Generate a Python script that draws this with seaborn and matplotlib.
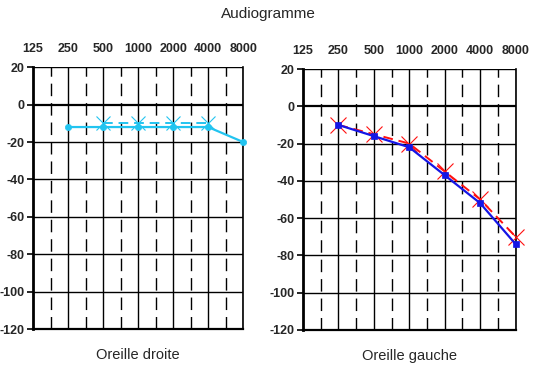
import numpy as np
import pandas as pd
import matplotlib
matplotlib.use('Agg')
import matplotlib.pyplot as plt
import seaborn as sns

# frequencies (Hz) and thresholds (dB)
freq_ticks = [125, 250, 500, 1000, 2000, 4000, 8000]
db_ticks = [20, 0, -20, -40, -60, -80, -100, -120]

# right ear (Oreille droite)
right_air_f = [250, 500, 1000, 2000, 4000, 8000]
right_air_db = [-12, -12, -12, -12, -12, -20]
right_bone_f = [500, 1000, 2000, 4000]
right_bone_db = [-10, -10, -10, -10]

# left ear (Oreille gauche)
left_air_f = [250, 500, 1000, 2000, 4000, 8000]
left_air_db = [-10, -16, -22, -37, -52, -74]
left_bone_f = [250, 500, 1000, 2000, 4000, 8000]
left_bone_db = [-10, -15, -20, -35, -50, -70]

sns.set_style('white')
plt.rcParams['font.family'] = ['Liberation Sans', 'DejaVu Sans']

fig = plt.figure(figsize=(5.36, 3.69), dpi=100)
ax1 = fig.add_axes([0.0616, 0.108, 0.392, 0.710])
ax2 = fig.add_axes([0.565, 0.106, 0.397, 0.707])


def setup(ax, label):
    ax.set_xscale('log', base=2)
    ax.set_xlim(125, 8000)
    ax.set_ylim(-120, 20)
    # solid grid on octaves, dashed on half octaves
    for f in freq_ticks[1:]:
        ax.axvline(f, color='black', lw=1.0, zorder=1)
    for f in freq_ticks[:-1]:
        ax.axvline(f * np.sqrt(2), color='black', lw=1.0, ls=(0, (9, 5)), zorder=1)
    for d in db_ticks:
        ax.axhline(d, color='black', lw=1.6 if d == 0 else 1.0, zorder=1)
    ax.xaxis.set_ticks_position('top')
    ax.set_xticks(freq_ticks)
    ax.set_xticklabels([str(f) for f in freq_ticks], fontsize=9, fontweight='bold')
    ax.xaxis.set_minor_locator(matplotlib.ticker.NullLocator())
    ax.tick_params(axis='x', length=0, pad=9)
    ax.set_yticks(db_ticks)
    ax.set_yticklabels([str(d) for d in db_ticks], fontsize=9, fontweight='bold')
    ax.tick_params(axis='y', length=4, width=1.2, color='black', direction='out', left=True, pad=2)
    ax.spines['left'].set_linewidth(2.0)
    ax.spines['bottom'].set_linewidth(1.6)
    ax.spines['right'].set_linewidth(1.2)
    ax.spines['top'].set_visible(False)
    for s in ax.spines.values():
        s.set_color('black')
    ax.set_xlabel('')
    ax.set_ylabel('')
    ax.text(0.5, -0.1, label, transform=ax.transAxes, ha='center', va='center', fontsize=10.5)


cyan = '#22c4f0'
red = '#ff1010'
blue = '#1515e6'
sns.lineplot(x=right_air_f, y=right_air_db, ax=ax1, color=cyan, lw=1.6,
             marker='o', markersize=4.5, markeredgecolor=cyan, markeredgewidth=0.5, zorder=3)
sns.lineplot(x=right_bone_f, y=right_bone_db, ax=ax1, color=cyan, lw=1.4,
             linestyle=(0, (5, 3)), marker='x', markersize=10, markeredgecolor=cyan,
             markeredgewidth=0.8, zorder=3)

sns.lineplot(x=left_bone_f, y=left_bone_db, ax=ax2, color=red, lw=1.4,
             linestyle=(0, (5, 3)), marker='x', markersize=11, markeredgecolor=red,
             markeredgewidth=0.8, zorder=3)
sns.lineplot(x=left_air_f, y=left_air_db, ax=ax2, color=blue, lw=1.6,
             marker='s', markersize=4.5, markeredgecolor=blue, markeredgewidth=0.5, zorder=4)

setup(ax1, 'Oreille droite')
setup(ax2, 'Oreille gauche')

# let the 8000 Hz markers spill over the right edge like the original
for ax in (ax1, ax2):
    for ln in ax.lines:
        if ln.get_marker() not in (None, 'None', ''):
            ln.set_clip_on(False)

fig.text(0.5, 0.962, 'Audiogramme', ha='center', va='center', fontsize=11)

fig.savefig('out.png', dpi=100, facecolor='white')
